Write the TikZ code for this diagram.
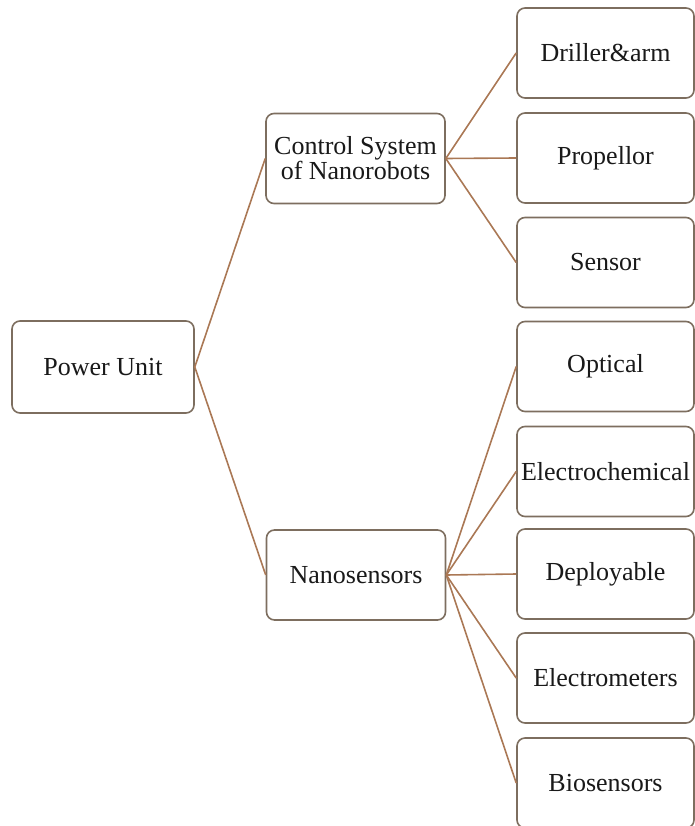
\documentclass[tikz,border=0pt]{standalone}
\usepackage{fontspec}
\setmainfont{Liberation Serif}
\definecolor{linkc}{RGB}{170,120,85}
\definecolor{boxc}{RGB}{125,110,95}
\definecolor{txtc}{RGB}{25,25,25}
\begin{document}
\begin{tikzpicture}[x=1pt,y=-1pt,
  box/.style={draw=boxc,line width=1.6pt,fill=white,rounded corners=8pt,
    minimum height=90pt,inner sep=0pt,align=center,text=txtc,
    font=\fontsize{26}{25}\selectfont},
  mid/.style={box,minimum width=179pt},
  leaf/.style={box,minimum width=177pt},
  link/.style={draw=linkc,line width=1.6pt}]
\useasboundingbox (0,0) rectangle (695,826);
\node[box,minimum width=182pt,minimum height=92pt] (pu) at (103,367) {Power Unit};
\node[mid] (cs) at (355.5,158.5) {Control System\\of Nanorobots};
\node[mid] (ns) at (356,575) {Nanosensors};
\node[leaf] (d1) at (605.5,53) {Driller\&arm};
\node[leaf] (d2) at (605.5,158) {Propellor};
\node[leaf] (d3) at (605.5,262.5) {Sensor};
\node[leaf] (n1) at (605.5,366.5) {Optical};
\node[leaf] (n2) at (605.5,471.5) {Electrochemical};
\node[leaf] (n3) at (605.5,574) {Deployable};
\node[leaf] (n4) at (605.5,678) {Electrometers};
\node[leaf] (n5) at (605.5,783) {Biosensors};
\begin{scope}[on background layer/.try]
\end{scope}
\foreach \t in {cs,ns} \draw[link] (pu.east) -- (\t.west);
\foreach \t in {d1,d2,d3} \draw[link] (cs.east) -- (\t.west);
\foreach \t in {n1,n2,n3,n4,n5} \draw[link] (ns.east) -- (\t.west);
\end{tikzpicture}
\end{document}
